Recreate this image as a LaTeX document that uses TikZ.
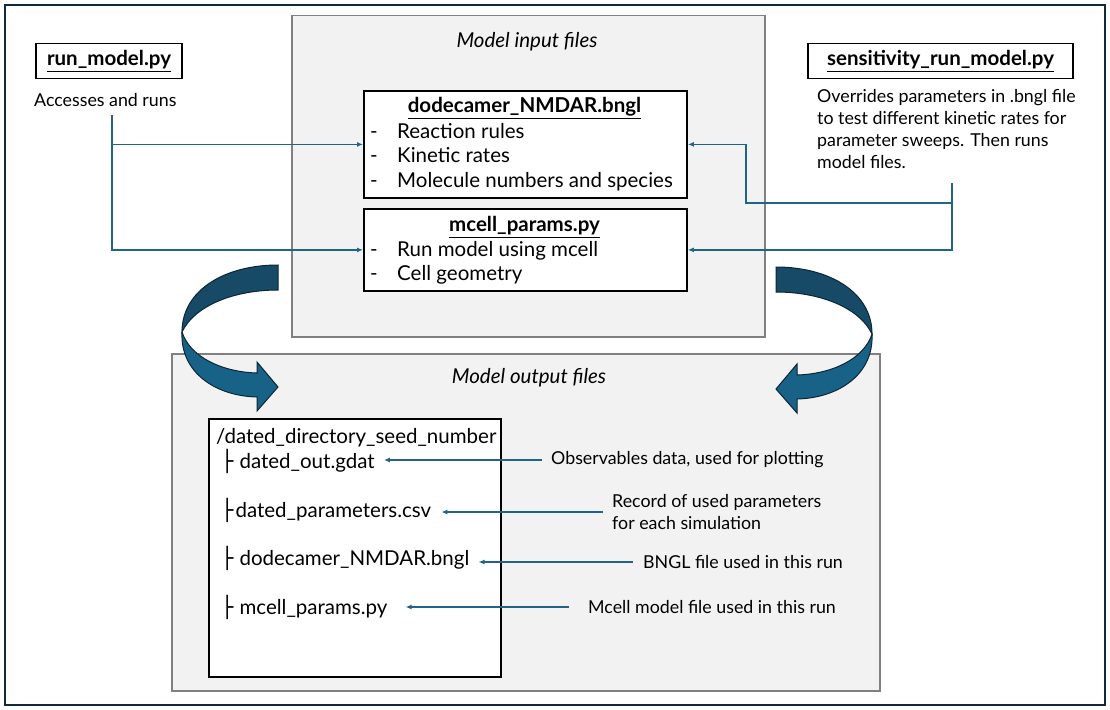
\documentclass[tikz,border=0pt]{standalone}
\usepackage{fontspec}
\setmainfont{Lato}
\newfontfamily\treefont{DejaVu Sans}
\usetikzlibrary{arrows.meta,positioning}
\definecolor{frameline}{RGB}{14,42,60}
\definecolor{linkblue}{RGB}{32,100,138}
\definecolor{panelfill}{RGB}{242,242,242}
\definecolor{panelline}{RGB}{128,128,128}
\definecolor{ribbondark}{RGB}{22,74,102}
\definecolor{ribbonlight}{RGB}{24,98,135}
\definecolor{ribbonedge}{RGB}{12,38,54}
\newcommand{\bigtext}{\fontsize{20.5}{24}\selectfont}
\newcommand{\smalltext}{\fontsize{17.8}{22}\selectfont}
\newcommand{\branch}{{\treefont\char"251C}}
\tikzset{
  panel/.style={draw=panelline, fill=panelfill, line width=1.5pt, anchor=north west},
  filebox/.style={draw=black, fill=white, line width=1.8pt, anchor=north west},
  scriptbox/.style={draw=black, fill=white, line width=1.8pt, minimum height=35pt, font=\bigtext},
  caption/.style={font=\bigtext\itshape},
  entry/.style={font=\bigtext, anchor=west, inner sep=0pt, text height=17pt, text depth=2pt},
  note/.style={font=\smalltext, anchor=west, inner sep=0pt, align=left},
  feed/.style={draw=linkblue, line width=1.5pt, -{Latex[length=6pt,width=5pt]}},
  curlarrow/.pic={
    \filldraw[fill=ribbondark, draw=ribbonedge, line width=1pt]
      (278,265) .. controls (225,265) and (182,290) .. (182,332)
      .. controls (195,305) and (235,290) .. (278,290) -- cycle;
    \filldraw[fill=ribbonlight, draw=ribbonedge, line width=1pt]
      (182,332) .. controls (180,372) and (215,396) .. (257,397)
      -- (257,411) -- (278,387) -- (257,362) -- (257,373)
      .. controls (222,372) and (190,357) .. (182,332) -- cycle;
  }
}

\begin{document}
\begin{tikzpicture}[x=1pt,y=-1pt]
\useasboundingbox (0,0) rectangle (1110,709);
\draw[frameline, line width=2pt] (5,5) rectangle (1105,705);

\node[panel, minimum width=473, minimum height=321] (inpanel) at (291,15) {};
\node[caption] (intitle) at (527,42) {Model input files};
\node[panel, minimum width=708, minimum height=337] (outpanel) at (171,353) {};
\node[caption] (outtitle) at (529,378) {Model output files};

\node[filebox, minimum width=323, minimum height=107] (bngl) at (363,90) {};
\node[font=\bigtext] (bngltitle) at (524.5,108) {\underline{\textbf{dodecamer\_NMDAR.bngl}}};
\foreach \txt [count=\i] in {Reaction rules, Kinetic rates, Molecule numbers and species} {
  \node[entry] at (370,106+24.5*\i) {-};
  \node[entry] at (397,106+24.5*\i) {\txt};
}
\node[filebox, minimum width=323, minimum height=82] (mcell) at (363,208) {};
\node[font=\bigtext] (mcelltitle) at (524.5,227) {\underline{\textbf{mcell\_params.py}}};
\foreach \txt [count=\i] in {Run model using mcell, Cell geometry} {
  \node[entry] at (370,225+24*\i) {-};
  \node[entry] at (397,225+24*\i) {\txt};
}

\node[scriptbox, minimum width=146] (run) at (109,61) {\underline{\textbf{run\_model.py}}};
\node[note] (runnote) at (34,100) {Accesses and runs};
\node[scriptbox, minimum width=265] (sens) at (940.5,61) {\underline{\textbf{sensitivity\_run\_model.py}}};
\node[note, anchor=north west] (sensnote) at (817,89)
  {Overrides parameters in .bngl file\\to test different kinetic rates for\\parameter sweeps. Then runs\\model files.};

\coordinate (runsplit) at (112,115);
\coordinate (sensjoin) at (952,183);
\coordinate (sensbend) at (746,203);
\draw[feed] (runsplit) |- (bngl.west);
\draw[feed] (runsplit) |- (mcell.west);
\draw[feed] (sensjoin) |- (sensbend) |- (bngl.east);
\draw[feed] (sensjoin) |- (mcell.east);

\node[filebox, minimum width=292, minimum height=258] (outdir) at (208,418) {};
\node[entry] (dirname) at (216,436) {/dated\_directory\_seed\_number};
\node[entry] (gdat) at (221,461) {\branch\hspace{6pt}dated\_out.gdat};
\node[entry] (csv) at (221,510) {\branch\hspace{2pt}dated\_parameters.csv};
\node[entry] (bnglcopy) at (221,558) {\branch\hspace{6pt}dodecamer\_NMDAR.bngl};
\node[entry] (mcellcopy) at (221,607) {\branch\hspace{6pt}mcell\_params.py};

\node[note] (obsnote) at (551,460) {Observables data, used for plotting};
\node[note] (recnote) at (612,512) {Record of used parameters\\for each simulation};
\node[note] (bnglnote) at (643,562) {BNGL file used in this run};
\node[note] (mcellnote) at (588,607) {Mcell model file used in this run};
\draw[feed, shorten <=9pt, shorten >=9pt] (obsnote.west) -- (gdat.east |- obsnote.west);
\draw[feed, shorten <=9pt, shorten >=10pt] (recnote.west) -- (csv.east |- recnote.west);
\draw[feed, shorten <=10pt, shorten >=9pt] (bnglnote.west) -- (bnglcopy.east |- bnglnote.west);
\draw[feed, shorten <=19pt, shorten >=18pt] (mcellnote.west) -- (mcellcopy.east |- mcellnote.west);

\pic at (0,0) {curlarrow};
\pic[xscale=-1] at (1054,2) {curlarrow};
\end{tikzpicture}
\end{document}
